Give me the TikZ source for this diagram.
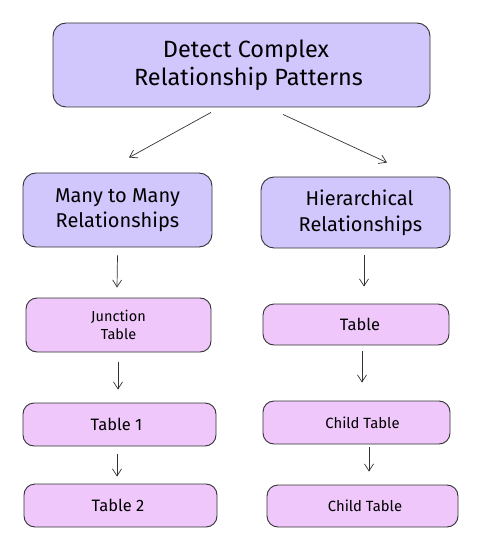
\documentclass[tikz,border=0pt]{standalone}
\usepackage{fontspec}
\setmainfont{Fira Sans}
\usetikzlibrary{arrows.meta,calc}
\definecolor{lav}{HTML}{D2C7FD}
\definecolor{pinkf}{HTML}{EFC7FA}
\definecolor{edge}{HTML}{333333}
\tikzset{
  topbox/.style={draw=edge, line width=0.9pt, fill=lav, rounded corners=13pt, align=center, inner sep=0pt},
  subbox/.style={draw=edge, line width=0.9pt, fill=pinkf, rounded corners=11pt, align=center, inner sep=0pt},
  arr/.style={draw=edge, line width=0.7pt, -{Straight Barb[length=7pt,width=9pt]}},
}
\begin{document}
\begin{tikzpicture}[x=1pt,y=-1pt]
\useasboundingbox (0,0) rectangle (478,545);
% top level
\node[topbox, minimum width=377pt, minimum height=84pt, font=\fontsize{23.5}{28}\selectfont] (main) at (241.5,65) {\hspace*{9pt}Detect Complex\\\hspace*{14pt}Relationship Patterns};
\node[topbox, minimum width=189pt, minimum height=74pt, font=\fontsize{20}{25}\selectfont] (many) at (117.5,210) {Many to Many\\Relationships};
\node[topbox, minimum width=189pt, minimum height=71pt, font=\fontsize{20}{26}\selectfont] (hier) at (355.5,212.5) {\hspace*{8pt}Hierarchical\\\hspace*{10pt}Relationships};
% left column
\node[subbox, minimum width=185pt, minimum height=54pt, font=\fontsize{14.5}{18}\selectfont] (junc) at (118.5,325) {Junction\\Table};
\node[subbox, minimum width=193pt, minimum height=43pt, font=\fontsize{16.5}{18}\selectfont] (t1) at (119.5,424.5) {Table 1\hspace*{6pt}};
\node[subbox, minimum width=193pt, minimum height=43pt, font=\fontsize{16.5}{18}\selectfont] (t2) at (120.5,505.5) {Table 2\hspace*{5pt}};
% right column
\node[subbox, minimum width=186pt, minimum height=41pt, font=\fontsize{16.5}{18}\selectfont] (rt) at (356,324.5) {\hspace*{8pt}Table};
\node[subbox, minimum width=187pt, minimum height=43pt, font=\fontsize{14.8}{18}\selectfont] (c1) at (356.5,422.5) {\hspace*{12pt}Child Table};
\node[subbox, minimum width=191pt, minimum height=42pt, font=\fontsize{14.8}{18}\selectfont] (c2) at (362.5,506) {\hspace*{5pt}Child Table};
% connectors
\draw[arr] ([xshift=-30.5pt,yshift=-5pt]main.south) -- ([xshift=11.5pt,yshift=15pt]many.north);
\draw[arr] ([xshift=41.5pt,yshift=-7pt]main.south) -- ([xshift=31.5pt,yshift=14pt]hier.north);
\draw[arr] ([yshift=-8pt]many.south) -- ([xshift=-1.5pt,yshift=10pt]junc.north);
\draw[arr] ([xshift=-0.5pt,yshift=-10pt]junc.south) -- ([xshift=-1.5pt,yshift=13pt]t1.north);
\draw[arr] ([xshift=-2.5pt,yshift=-8pt]t1.south) -- ([xshift=-3.5pt,yshift=7pt]t2.north);
\draw[arr] ([xshift=8.5pt,yshift=-7pt]hier.south) -- ([xshift=8pt,yshift=17pt]rt.north);
\draw[arr] ([xshift=6pt,yshift=-6pt]rt.south) -- ([xshift=5.5pt,yshift=18pt]c1.north);
\draw[arr] ([xshift=12.5pt,yshift=-3pt]c1.south) -- ([xshift=6.5pt,yshift=13pt]c2.north);
\end{tikzpicture}
\end{document}
